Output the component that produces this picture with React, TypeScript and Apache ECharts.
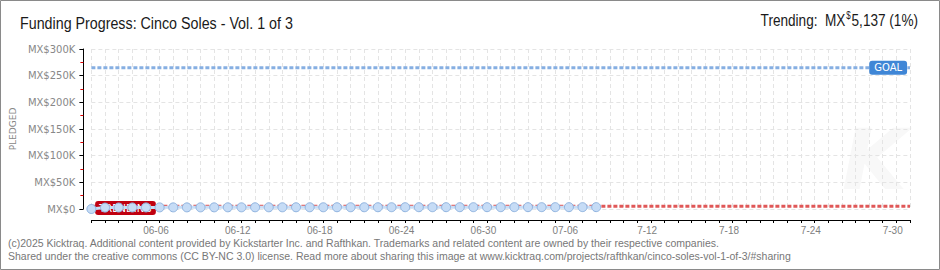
import React, { useEffect, useRef } from "react";
import * as echarts from "echarts";

// ---- data ----
const titleText = "Funding Progress: Cinco Soles - Vol. 1 of 3";
const trendingAmount = "5,137";
const trendingPct = "1%";
const goalValue = 265000;
const trendValue = 5137;
const totalDays = 60; // axis spans day 0 (06-02) .. day 60
const tickDays = [4, 10, 16, 22, 28, 34, 40, 46, 52, 58];
const tickLabels = ["06-06", "06-12", "06-18", "06-24", "06-30", "07-06", "7-12", "7-18", "7-24", "7-30"];
const yTicks = [0, 50000, 100000, 150000, 200000, 250000, 300000];
const yTickLabels = ["MX$0", "MX$50K", "MX$100K", "MX$150K", "MX$200K", "MX$250K", "MX$300K"];
const pledged = [
  0, 2650, 2800, 2900, 2950, 3000, 3050, 3050, 3100, 3100,
  3150, 3150, 3200, 3200, 3200, 3250, 3250, 3250, 3300, 3300,
  3300, 3300, 3350, 3350, 3350, 3350, 3400, 3400, 3400, 3400,
  3400, 3450, 3450, 3450, 3450, 3450, 3500, 3500,
];
const trendDays = [0, 60];
const trendValues = [trendValue, trendValue];
const footerLines = [
  "(c)2025 Kicktraq. Additional content provided by Kickstarter Inc. and Rafthkan. Trademarks and related content are owned by their respective companies.",
  "Shared under the creative commons (CC BY-NC 3.0) license. Read more about sharing this image at www.kicktraq.com/projects/rafthkan/cinco-soles-vol-1-of-3/#sharing",
];

const SANS = '"Liberation Sans", Arial, sans-serif';

export default function App() {
  const ref = useRef<HTMLDivElement>(null);
  useEffect(() => {
    if (!ref.current) return;
    const chart = echarts.init(ref.current, undefined, { renderer: "svg" });
    const labelMap: Record<number, string> = {};
    tickDays.forEach((d, i) => (labelMap[d] = tickLabels[i]));
    chart.setOption({
      animation: false,
      backgroundColor: "#ffffff",
      grid: { left: 85, right: 30, top: 49, bottom: 61, containLabel: false },
      xAxis: {
        type: "value",
        min: 0,
        max: totalDays,
        interval: 1,
        offset: 11,
        axisLine: { show: true, onZero: false, lineStyle: { color: "#000", width: 1 } },
        axisTick: { show: true, length: 3, lineStyle: { color: "#000" } },
        axisLabel: {
          show: true,
          margin: 5,
          color: "#808080",
          fontFamily: SANS,
          fontSize: 10,
          padding: [0, 0, 0, 20],
          formatter: (v: number) => labelMap[Math.round(v)] ?? "",
        },
        splitLine: { show: true, lineStyle: { color: "#e4e4e4", type: [4, 3] } },
      },
      yAxis: {
        type: "value",
        min: 0,
        max: 300000,
        interval: 50000,
        offset: 8,
        name: "PLEDGED",
        nameLocation: "middle",
        nameGap: 66,
        nameRotate: 90,
        nameTextStyle: { color: "#888", fontFamily: '"DejaVu Sans", sans-serif', fontSize: 9 },
        axisLine: { show: true, onZero: false, lineStyle: { color: "#000", width: 1 } },
        axisTick: { show: true, length: 4, lineStyle: { color: "#000" } },
        minorTick: { show: true, splitNumber: 2, length: 3, lineStyle: { color: "#e00000" } },
        axisLabel: {
          margin: 8,
          color: "#888",
          fontFamily: '"DejaVu Sans", sans-serif',
          fontSize: 10,
          formatter: (v: number) => yTickLabels[yTicks.indexOf(v)] ?? "",
        },
        splitLine: { show: true, lineStyle: { color: "#e4e4e4", type: [4, 3] } },
      },
      graphic: [
        {
          type: "text",
          x: 842,
          y: 118,
          z: -1,
          silent: true,
          style: { text: "K", font: 'italic bold 84px "DejaVu Sans", sans-serif', fill: "#f8f8f8" },
        },
        {
          type: "rect",
          shape: { x: 0.5, y: 0.5, width: 939, height: 269 },
          style: { fill: "none", stroke: "#8a8a8a", lineWidth: 1 },
          silent: true,
        },
        {
          type: "text",
          x: 20,
          y: 15,
          scaleX: 0.84,
          style: { text: titleText, font: `17px ${SANS}`, fill: "#1a1a1a", verticalAlign: "top" },
        },
        {
          type: "text",
          x: 918,
          y: 11,
          scaleX: 0.8,
          style: {
            text: `{a|Trending:  MX}{s|$}{a|${trendingAmount} (${trendingPct})}`,
            align: "right",
            verticalAlign: "top",
            rich: {
              a: { font: `17px ${SANS}`, fill: "#1a1a1a" },
              s: { font: `10px ${SANS}`, fill: "#1a1a1a", verticalAlign: "top", padding: [0, 1, 0, 1] },
            },
          },
        },
        {
          type: "text",
          x: 8,
          y: 237,
          style: { text: footerLines[0], font: `10.5px "Liberation Sans Narrow", ${SANS}`, fill: "#777" },
        },
        {
          type: "text",
          x: 8,
          y: 250,
          style: { text: footerLines[1], font: `10.5px "Liberation Sans Narrow", ${SANS}`, fill: "#777" },
        },
      ],
      series: [
        {
          name: "Goal",
          type: "line",
          data: [[0, goalValue], [totalDays, goalValue]],
          symbol: "none",
          z: 3,
          lineStyle: { color: "#86afe2", width: 3, type: [4, 2] },
          markPoint: {
            symbol: "rect",
            symbolSize: 0,
            data: [{ coord: [58.4, goalValue] }],
            label: {
              show: true,
              position: "inside",
              formatter: "GOAL",
              color: "#fff",
              fontFamily: '"DejaVu Sans", sans-serif',
              fontSize: 10,
              backgroundColor: "#3f86d6",
              borderRadius: 3,
              padding: [2, 5, 2, 5],
            },
          },
        },
        {
          name: "Trend",
          type: "line",
          data: trendDays.map((d, i) => [d, trendValues[i]]),
          symbol: "none",
          z: 3,
          lineStyle: { color: "#e05858", width: 3, type: [4, 2] },
          markPoint: {
            symbol: "rect",
            symbolSize: 0,
            z: 4,
            data: [{ coord: [2.5, 1800] }],
            label: {
              show: true,
              position: "inside",
              formatter: "TRENDING",
              color: "#fff",
              fontFamily: '"DejaVu Sans", sans-serif',
              fontSize: 10,
              backgroundColor: "#c00010",
              borderRadius: 3,
              padding: [2, 4, 2, 4],
            },
          },
        },
        {
          name: "Pledged",
          type: "line",
          z: 10,
          data: pledged.map((v, i) => [i, v]),
          symbol: "circle",
          symbolSize: 9,
          lineStyle: { color: "#c9ddf5", width: 3 },
          itemStyle: { color: "#c6dcf6", borderColor: "#8fb3df", borderWidth: 1 },
        },
      ],
    });
    return () => chart.dispose();
  }, []);
  return (
    <div style={{ position: "fixed", left: 0, top: 0, width: 940, height: 270, background: "#fff" }}>
      <div ref={ref} style={{ width: 940, height: 270 }} />
    </div>
  );
}
